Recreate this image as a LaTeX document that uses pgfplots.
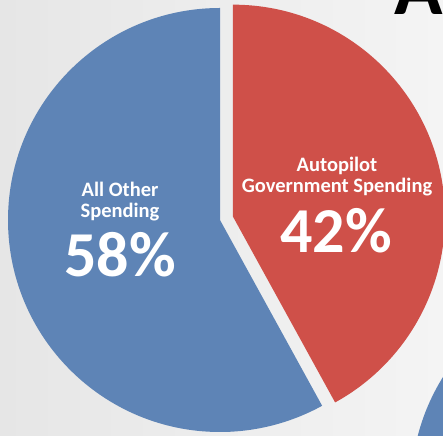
\documentclass[border=0pt]{standalone}
\usepackage{pgfplots}
\pgfplotsset{compat=1.18}
\usepackage{pgfplotstable}
\usepackage{fontspec}
\setmainfont{Carlito}
\definecolor{pieblue}{RGB}{94,132,182}
\definecolor{piered}{RGB}{207,80,73}
\definecolor{bgA}{RGB}{230,230,230}
\definecolor{bgB}{RGB}{244,244,244}
\pgfplotstableread{
name value
Autopilot 42
Other 58
}\piedata
\begin{document}
\begin{tikzpicture}
\begin{axis}[
  x=1pt, y=1pt,
  xmin=0, xmax=443, ymin=0, ymax=435,
  hide axis, clip=true,
]
\pgfplotstablegetelem{0}{value}\of\piedata \let\vred\pgfplotsretval
\pgfplotstablegetelem{1}{value}\of\piedata \let\vblue\pgfplotsretval
\pgfmathsetmacro\blueend{90+3.6*\vblue}
\pgfmathsetmacro\redend{90-3.6*\vred}
\pgfmathsetmacro\redmid{90-1.8*\vred}
\shade[left color=bgA, right color=bgB] (axis cs:0,0) rectangle (axis cs:443,435);
% other pie peeking in at bottom right
\fill[pieblue] (axis cs:623,-54) circle[radius=212pt];
% blue slice
\fill[pieblue] (axis cs:220,215) -- ++(90:212pt) arc[start angle=90, end angle=\blueend, radius=212pt] -- cycle;
% red slice (exploded)
\fill[piered, shift={(\redmid:13.4pt)}] (axis cs:220,215) -- ++(90:212pt) arc[start angle=90, end angle=\redend, radius=212pt] -- cycle;
% labels
\node[anchor=base, text=white, font=\fontsize{20.5}{22}\selectfont\bfseries] at (axis cs:120,238) {All Other};
\node[anchor=base, text=white, font=\fontsize{20.5}{22}\selectfont\bfseries] at (axis cs:120,217) {Spending};
\node[anchor=base, text=white, font=\fontsize{64}{70}\selectfont\bfseries] at (axis cs:120,158) {58\%};
\node[anchor=base, text=white, font=\fontsize{20.5}{22}\selectfont\bfseries] at (axis cs:337,263) {Autopilot};
\node[anchor=base, text=white, font=\fontsize{20.5}{22}\selectfont\bfseries] at (axis cs:337,242) {Government Spending};
\node[anchor=base, text=white, font=\fontsize{64}{70}\selectfont\bfseries] at (axis cs:336,182) {42\%};
% cut-off title
\node[anchor=base west, inner sep=0pt, text=black, font=\fontsize{80}{90}\selectfont\bfseries] at (axis cs:394,420) {A};
\end{axis}
\pgfresetboundingbox
\path (current axis.south west) rectangle (current axis.north east);
\end{tikzpicture}
\end{document}
